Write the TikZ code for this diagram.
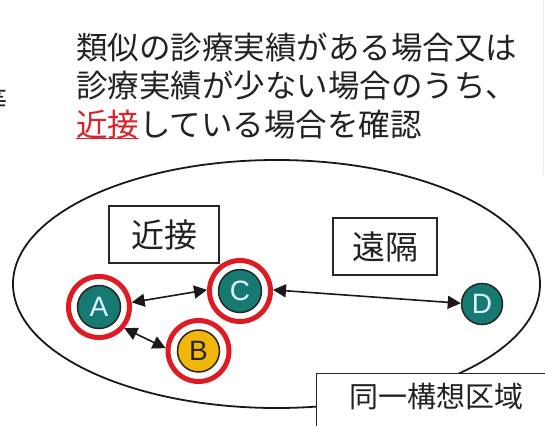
\documentclass[tikz,border=0pt]{standalone}
\usepackage{fontspec}
\newfontfamily\jp{Noto Sans CJK JP}
\newfontfamily\lat{Liberation Sans}
\usetikzlibrary{arrows.meta,shapes.geometric}
\definecolor{tealc}{HTML}{167A72}
\definecolor{ringred}{HTML}{E01A22}
\definecolor{yel}{HTML}{F2B705}
\definecolor{txtred}{HTML}{D8232A}
\definecolor{txt}{HTML}{222222}
\newcommand\myul[1]{\setbox0\hbox{#1}\rlap{\rule[-3pt]{\wd0}{1.4pt}}\box0}
\tikzset{
  labelbox/.style={draw=black!85, line width=1.4pt, fill=white, inner sep=0pt, text=txt,
    font=\jp\fontsize{33}{33}\selectfont},
  ringnode/.style={circle, draw=ringred, line width=5pt, minimum size=61pt, inner sep=0pt},
  ball/.style={circle, draw=black!85, line width=1.5pt, minimum size=43pt, inner sep=0pt,
    font=\lat\fontsize{28}{28}\selectfont},
  tealball/.style={ball, fill=tealc, text=white!88!cyan},
  yelball/.style={ball, fill=yel, text=black!85},
  conn/.style={{Triangle[length=13pt,width=13pt]}-{Triangle[length=13pt,width=13pt]}, line width=1.6pt, black!90}
}
\begin{document}
\begin{tikzpicture}[x=1pt,y=-1pt]
\useasboundingbox (0,0) rectangle (545,425);
\fill[white] (0,0) rectangle (545,425);
\draw[gray!15, line width=1pt] (543,0) -- (543,175);
% cut-off fragment at left edge
\node[anchor=base east, inner sep=0pt, text=txt, font=\jp\fontsize{28}{28}\selectfont] (frag) at (8,111) {等};
% title
\node[anchor=base west, inner sep=0pt, align=left, text=txt,
      font=\jp\fontsize{31.5}{38.5}\selectfont] (title) at (76,136)
  {類似の診療実績がある場合又は\\診療実績が少ない場合のうち、\\{\color{txtred}\myul{近接}}している場合を確認};
% region ellipse
\node[ellipse, draw=black!90, line width=1.8pt, minimum width=527pt, minimum height=248pt, inner sep=0pt] (region) at (276.5,284) {};
% region box
\node[draw=black!85, line width=1.4pt, fill=white, anchor=north west, minimum width=260pt, minimum height=80pt, inner sep=0pt] (regionbox) at (316,373) {};
\node[inner sep=0pt, text=txt, font=\jp\fontsize{29}{29}\selectfont] (regionlabel) at (436,396.5) {同一構想区域};
% label boxes
\node[labelbox, minimum width=110pt, minimum height=57pt] (near) at (164,234.5) {近接};
\node[labelbox, minimum width=104pt, minimum height=57pt] (far) at (385,246.5) {遠隔};
% nodes
\node[ringnode] (A) at (99,307) {};
\node[tealball] (Ab) at (A) {A};
\node[ringnode] (B) at (198.5,351) {};
\node[yelball, minimum size=42pt] (Bb) at (B) {B};
\node[ringnode] (C) at (240,291) {};
\node[tealball] (Cb) at (C) {C};
\node[tealball, minimum size=41pt] (D) at (482,304) {D};
% connectors
\draw[conn] (A.8) -- (C.178);
\draw[conn] (A.-40) -- (B.175);
\draw[conn] (C.2) -- (D.178);
\end{tikzpicture}
\end{document}
